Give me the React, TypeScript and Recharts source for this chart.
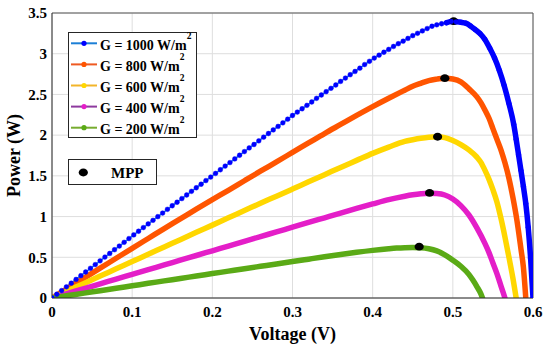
import React from 'react';
import {
  ComposedChart,
  Line,
  Scatter,
  XAxis,
  YAxis,
  CartesianGrid,
  ReferenceLine,
  Legend,
  Label,
} from 'recharts';

const FONT = "'Liberation Serif', 'Times New Roman', Times, serif";

// ---------- tick labels ----------
const xTicks = [0, 0.1, 0.2, 0.3, 0.4, 0.5, 0.6];
const yTicks = [0, 0.5, 1, 1.5, 2, 2.5, 3, 3.5];

// ---------- legend names ----------
const seriesNames = ['G = 1000 W/m', 'G = 800 W/m', 'G = 600 W/m', 'G = 400 W/m', 'G = 200 W/m'];
const mppName = 'MPP';

// ---------- G = 1000 W/m2 ----------
const blueV = [
  0, 0.006, 0.012, 0.018, 0.024, 0.03, 0.036, 0.042, 0.048, 0.054, 0.06, 0.066, 0.072, 0.078, 0.084, 0.09, 0.096,
  0.102, 0.108, 0.114, 0.12, 0.126, 0.132, 0.138, 0.144, 0.15, 0.156, 0.162, 0.168, 0.174, 0.18, 0.186, 0.192, 0.198,
  0.204, 0.21, 0.216, 0.222, 0.228, 0.234, 0.24, 0.246, 0.252, 0.258, 0.264, 0.27, 0.276, 0.282, 0.288, 0.294, 0.3,
  0.306, 0.312, 0.318, 0.324, 0.33, 0.336, 0.342, 0.348, 0.354, 0.36, 0.366, 0.372, 0.378, 0.384, 0.39, 0.396,
  0.402, 0.408, 0.414, 0.42, 0.426, 0.432, 0.438, 0.444, 0.45, 0.456, 0.462, 0.468, 0.474, 0.48, 0.486, 0.492, 0.498,
  0.504, 0.51, 0.516, 0.522, 0.528, 0.534, 0.54, 0.546, 0.552, 0.558, 0.564, 0.57, 0.576, 0.579, 0.582, 0.585,
  0.588, 0.591, 0.594, 0.597, 0.6,
];
const blueP = [
  0, 0.046, 0.091, 0.137, 0.182, 0.228, 0.274, 0.319, 0.365, 0.41, 0.456, 0.502, 0.547, 0.593, 0.638, 0.684, 0.73,
  0.775, 0.82, 0.865, 0.91, 0.954, 0.999, 1.043, 1.089, 1.133, 1.176, 1.221, 1.265, 1.31, 1.354, 1.397, 1.442, 1.485,
  1.53, 1.575, 1.62, 1.663, 1.708, 1.753, 1.798, 1.843, 1.885, 1.93, 1.975, 2.02, 2.064, 2.107, 2.151, 2.196, 2.241,
  2.283, 2.324, 2.366, 2.407, 2.452, 2.493, 2.534, 2.575, 2.616, 2.66, 2.701, 2.742, 2.782, 2.822, 2.867, 2.907,
  2.947, 2.982, 3.018, 3.053, 3.089, 3.123, 3.154, 3.188, 3.222, 3.251, 3.28, 3.309, 3.337, 3.355, 3.368, 3.38, 3.396,
  3.392, 3.386, 3.375, 3.341, 3.295, 3.247, 3.175, 3.069, 2.948, 2.796, 2.611, 2.388, 2.131, 1.95, 1.758, 1.565,
  1.37, 1.16, 0.87, 0.49, 0,
];

// ---------- G = 800 W/m2 ----------
const orangeV = [
  0, 0.02, 0.04, 0.06, 0.08, 0.1, 0.12, 0.14, 0.16, 0.18, 0.2, 0.22, 0.24, 0.26, 0.28, 0.3, 0.32, 0.34, 0.36, 0.38,
  0.4, 0.42, 0.44, 0.45, 0.46, 0.47, 0.48, 0.49, 0.5, 0.51, 0.52, 0.53, 0.535, 0.54, 0.545, 0.55, 0.555, 0.56, 0.565,
  0.57, 0.575, 0.58, 0.585, 0.588, 0.591,
];
const orangeP = [
  0, 0.122, 0.244, 0.366, 0.488, 0.61, 0.731, 0.852, 0.971, 1.091, 1.208, 1.322, 1.44, 1.557, 1.672, 1.788, 1.904,
  2.02, 2.131, 2.242, 2.35, 2.453, 2.552, 2.601, 2.636, 2.67, 2.688, 2.7, 2.69, 2.655, 2.57, 2.47, 2.4, 2.31, 2.21,
  2.08, 1.95, 1.82, 1.66, 1.47, 1.23, 0.95, 0.6, 0.38, 0,
];

// ---------- G = 600 W/m2 ----------
const yellowV = [
  0, 0.02, 0.04, 0.06, 0.08, 0.1, 0.12, 0.14, 0.16, 0.18, 0.2, 0.22, 0.24, 0.26, 0.28, 0.3, 0.32, 0.34, 0.36, 0.38,
  0.4, 0.42, 0.44, 0.45, 0.46, 0.47, 0.48, 0.49, 0.5, 0.51, 0.52, 0.53, 0.535, 0.54, 0.545, 0.55, 0.555, 0.56, 0.565,
  0.57, 0.575, 0.579,
];
const yellowP = [
  0, 0.09, 0.179, 0.269, 0.358, 0.448, 0.537, 0.627, 0.716, 0.806, 0.895, 0.985, 1.074, 1.164, 1.25, 1.338, 1.427,
  1.515, 1.604, 1.69, 1.776, 1.853, 1.923, 1.944, 1.962, 1.975, 1.98, 1.97, 1.935, 1.885, 1.82, 1.73, 1.665, 1.57,
  1.46, 1.33, 1.18, 0.98, 0.75, 0.5, 0.24, 0,
];

// ---------- G = 400 W/m2 ----------
const magentaV = [
  0, 0.02, 0.04, 0.06, 0.08, 0.1, 0.12, 0.14, 0.16, 0.18, 0.2, 0.22, 0.24, 0.26, 0.28, 0.3, 0.32, 0.34, 0.36, 0.38,
  0.4, 0.42, 0.44, 0.45, 0.46, 0.47, 0.48, 0.49, 0.5, 0.51, 0.52, 0.53, 0.54, 0.545, 0.55, 0.555, 0.56, 0.565,
];
const magentaP = [
  0, 0.058, 0.116, 0.174, 0.232, 0.29, 0.348, 0.406, 0.464, 0.522, 0.58, 0.638, 0.696, 0.754, 0.812, 0.87, 0.928,
  0.985, 1.042, 1.1, 1.155, 1.208, 1.25, 1.267, 1.28, 1.287, 1.283, 1.265, 1.215, 1.135, 1.02, 0.86, 0.67, 0.56,
  0.43, 0.3, 0.15, 0,
];

// ---------- G = 200 W/m2 ----------
const greenV = [
  0, 0.02, 0.04, 0.06, 0.08, 0.1, 0.12, 0.14, 0.16, 0.18, 0.2, 0.22, 0.24, 0.26, 0.28, 0.3, 0.32, 0.34, 0.36, 0.38,
  0.4, 0.42, 0.43, 0.44, 0.45, 0.46, 0.47, 0.48, 0.49, 0.5, 0.51, 0.52, 0.525, 0.53, 0.535, 0.537,
];
const greenP = [
  0, 0.03, 0.06, 0.09, 0.12, 0.15, 0.18, 0.21, 0.24, 0.27, 0.3, 0.33, 0.36, 0.389, 0.418, 0.448, 0.477, 0.506, 0.534,
  0.561, 0.585, 0.605, 0.613, 0.618, 0.62, 0.617, 0.605, 0.578, 0.53, 0.465, 0.39, 0.29, 0.22, 0.14, 0.05, 0,
];

// ---------- maximum power points ----------
const mppV = [0.501, 0.49, 0.481, 0.471, 0.458];
const mppP = [3.4, 2.7, 1.98, 1.29, 0.63];

// ---------- styles ----------
const curveColors = ['#0000FF', '#FF5500', '#FFD700', '#E41EC8', '#5AAA16'];
const legendLineColors = ['#1C7FD6', '#EE5A22', '#F2B52A', '#8E3A9E', '#77AC30'];
const blueLineColor = '#1C8AE6';

const toPoints = (v: number[], p: number[]) => v.map((x, i) => ({ v: x, p: p[i] }));

const blueData = toPoints(blueV, blueP);
const blueTail = blueData.filter((d) => d.v >= 0.492);
const otherData = [
  toPoints(orangeV, orangeP),
  toPoints(yellowV, yellowP),
  toPoints(magentaV, magentaP),
  toPoints(greenV, greenP),
];
const mppData = toPoints(mppV, mppP);

const tickStyle = { fontFamily: FONT, fontWeight: 'bold' as const, fontSize: 15, fill: '#000' };

const LegendBoxes = () => (
  <svg width={550} height={354} style={{ display: 'block' }}>
    <rect x={68.5} y={32.5} width={128} height={105} fill="#fff" stroke="#262626" strokeWidth={1} />
    {seriesNames.map((name, i) => {
      const cy = 43.3 + i * 21.1;
      return (
        <g key={name}>
          <line x1={71} x2={97} y1={cy} y2={cy} stroke={legendLineColors[i]} strokeWidth={2} />
          <circle cx={84} cy={cy} r={2.6} fill={curveColors[i]} />
          <text x={100} y={cy + 6.5} fontFamily={FONT} fontWeight="bold" fontSize={14} fill="#000">
            {name}
            <tspan dy={-11.3} fontSize={9.5}>
              2
            </tspan>
          </text>
        </g>
      );
    })}
    <rect x={68.5} y={159.5} width={88} height={25} fill="#fff" stroke="#262626" strokeWidth={1} />
    <ellipse cx={83.3} cy={172.5} rx={4.6} ry={3.9} fill="#000" />
    <text x={111} y={177.5} fontFamily={FONT} fontWeight="bold" fontSize={15} fill="#000">
      {mppName}
    </text>
  </svg>
);

const YTitle = (props: any) => {
  const vb = props.viewBox || { x: 0, y: 13, width: 52, height: 285 };
  const x = vb.x + 19.5;
  const y = vb.y + vb.height / 2;
  return (
    <text
      x={x}
      y={y}
      transform={`rotate(-90 ${x} ${y})`}
      textAnchor="middle"
      fontFamily={FONT}
      fontWeight="bold"
      fontSize={18}
      fill="#000"
    >
      Power (W)
    </text>
  );
};

const MppShape = (props: any) => <ellipse cx={props.cx} cy={props.cy} rx={4.6} ry={3.9} fill="#000" />;

export default function App() {
  return (
    <div style={{ position: 'absolute', left: 0, top: 0, width: 550, height: 354, background: '#fff' }}>
      <ComposedChart width={550} height={354} margin={{ top: 13, right: 17, left: 0, bottom: 0 }}>
        <CartesianGrid stroke="#dedede" strokeWidth={1} />
        <XAxis
          type="number"
          dataKey="v"
          domain={[0, 0.6]}
          ticks={xTicks}
          height={56}
          tickLine={false}
          tickSize={0}
          tickMargin={8}
          axisLine={{ stroke: '#262626', strokeWidth: 1 }}
          tick={tickStyle}
          allowDataOverflow
        >
          <Label
            value="Voltage (V)"
            position="insideBottom"
            offset={14}
            fill="#000"
            style={{ fontFamily: FONT, fontWeight: 'bold', fontSize: 18, fill: '#000' }}
          />
        </XAxis>
        <YAxis
          type="number"
          dataKey="p"
          domain={[0, 3.5]}
          ticks={yTicks}
          width={52}
          tickLine={false}
          tickSize={0}
          tickMargin={5}
          axisLine={{ stroke: '#262626', strokeWidth: 1 }}
          tick={tickStyle}
          allowDataOverflow
        >
          <Label content={YTitle} />
        </YAxis>
        <ReferenceLine y={3.5} stroke="#555" strokeWidth={1} />
        <ReferenceLine x={0.6} stroke="#555" strokeWidth={1} />

        <Line
          data={blueData}
          dataKey="p"
          type="linear"
          stroke={blueLineColor}
          strokeWidth={1.6}
          dot={{ r: 2.4, fill: curveColors[0], stroke: curveColors[0], strokeWidth: 0.4 }}
          activeDot={false}
          isAnimationActive={false}
        />
        <Line
          data={blueTail}
          dataKey="p"
          type="monotone"
          stroke={curveColors[0]}
          strokeWidth={5.5}
          strokeLinecap="round"
          dot={false}
          activeDot={false}
          isAnimationActive={false}
        />
        {otherData.map((d, i) => (
          <Line
            key={i}
            data={d}
            dataKey="p"
            type="monotone"
            stroke={curveColors[i + 1]}
            strokeWidth={5.5}
            strokeLinecap="round"
            dot={false}
            activeDot={false}
            isAnimationActive={false}
          />
        ))}
        <Scatter data={mppData} dataKey="p" shape={MppShape} isAnimationActive={false} />
        <Legend
          layout="horizontal"
          verticalAlign="middle"
          align="center"
          wrapperStyle={{ left: 0, top: 0, width: 550, height: 354, pointerEvents: 'none' }}
          content={() => <LegendBoxes />}
        />
      </ComposedChart>
    </div>
  );
}
